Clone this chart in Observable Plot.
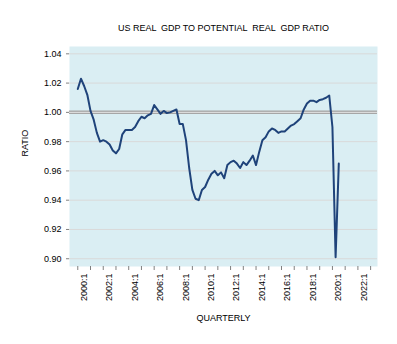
<!DOCTYPE html>
<html>
<head>
<meta charset="utf-8">
<script src="https://cdn.jsdelivr.net/npm/d3@7"></script>
<script src="https://cdn.jsdelivr.net/npm/@observablehq/plot@0.6"></script>
<style>
  html, body { margin: 0; padding: 0; background: #ffffff; }
  #chart { width: 397px; height: 344px; }
  #chart svg { font-family: "Liberation Sans", Arial, sans-serif; }
</style>
</head>
<body>
<div id="chart"></div>
<script>
// ---- Data (quarterly, starting 2000:1) ----
const startYear = 2000;
const ratio = [
  1.016, 1.023, 1.018, 1.012,   // 2000
  1.001, 0.995, 0.986, 0.980,   // 2001
  0.981, 0.980, 0.978, 0.974,   // 2002
  0.972, 0.975, 0.985, 0.988,   // 2003
  0.988, 0.988, 0.990, 0.994,   // 2004
  0.997, 0.996, 0.998, 0.999,   // 2005
  1.005, 1.002, 0.999, 1.001,   // 2006
  0.9995, 1.000, 1.001, 1.002,  // 2007
  0.992, 0.992, 0.981, 0.962,   // 2008
  0.947, 0.941, 0.940, 0.947,   // 2009
  0.949, 0.954, 0.958, 0.960,   // 2010
  0.957, 0.959, 0.955, 0.964,   // 2011
  0.966, 0.967, 0.965, 0.962,   // 2012
  0.966, 0.964, 0.967, 0.9705,  // 2013
  0.964, 0.973, 0.981, 0.983,   // 2014
  0.987, 0.989, 0.988, 0.986,   // 2015
  0.987, 0.987, 0.989, 0.991,   // 2016
  0.992, 0.994, 0.996, 1.002,   // 2017
  1.006, 1.008, 1.008, 1.007,   // 2018
  1.0085, 1.009, 1.010, 1.0115, // 2019
  0.990, 0.901, 0.965           // 2020
];
const yTicks = [0.90, 0.92, 0.94, 0.96, 0.98, 1.00, 1.02, 1.04];
const xTickYears = [2000,2001,2002,2003,2004,2005,2006,2007,2008,2009,2010,2011,2012,2013,2014,2015,2016,2017,2018,2019,2020,2021,2022,2023];
const xLabelYears = [2000,2002,2004,2006,2008,2010,2012,2014,2016,2018,2020,2022];
const referenceLevel = 1.00;
const titleText = "US REAL  GDP TO POTENTIAL  REAL  GDP RATIO";
const xTitle = "QUARTERLY";
const yTitle = "RATIO";

const data = ratio.map((v, i) => ({t: startYear + i / 4, v}));

const chart = Plot.plot({
  width: 397,
  height: 344,
  marginLeft: 69,
  marginRight: 20,
  marginTop: 46,
  marginBottom: 78,
  style: {fontFamily: "'Liberation Sans', Arial, sans-serif", fontSize: "9px", color: "#000", background: "#fff"},
  x: {type: "linear", domain: [1999.35, 2023.54]},
  y: {domain: [0.8947, 1.045]},
  marks: [
    Plot.frame({fill: "#DAEEF3", stroke: "none"}),
    Plot.ruleY(yTicks, {stroke: "#D9D9D9", strokeWidth: 1}),
    Plot.ruleY([referenceLevel], {stroke: "#A6A6A6", strokeWidth: 3.5}),
    Plot.ruleY([referenceLevel], {stroke: "#E4E4E4", strokeWidth: 1}),
    Plot.line(data, {x: "t", y: "v", stroke: "#1F437A", strokeWidth: 2}),
    Plot.axisY({ticks: yTicks, tickFormat: d3.format(".2f"), tickSize: 3, tickPadding: 5, stroke: "#808080", fill: "#000", label: null, fontSize: 9}),
    Plot.axisX({ticks: xTickYears, tickSize: 4, tickFormat: () => "", stroke: "#808080", label: null}),
    Plot.axisX({ticks: xLabelYears, tickSize: 0, tickPadding: 7, tickRotate: -90, dx: 6, tickFormat: d => d + ":1", fill: "#000", label: null, fontSize: 9}),
    Plot.text([titleText], {frameAnchor: "top", dy: -22, text: d => d, fontSize: 9, fill: "#000"}),
    Plot.text([xTitle], {frameAnchor: "bottom", dy: 54, text: d => d, fontSize: 9, fill: "#000"}),
    Plot.text([yTitle], {frameAnchor: "left", dx: -44, rotate: -90, text: d => d, fontSize: 9, fill: "#000"})
  ]
});
document.getElementById("chart").appendChild(chart);
</script>
</body>
</html>
